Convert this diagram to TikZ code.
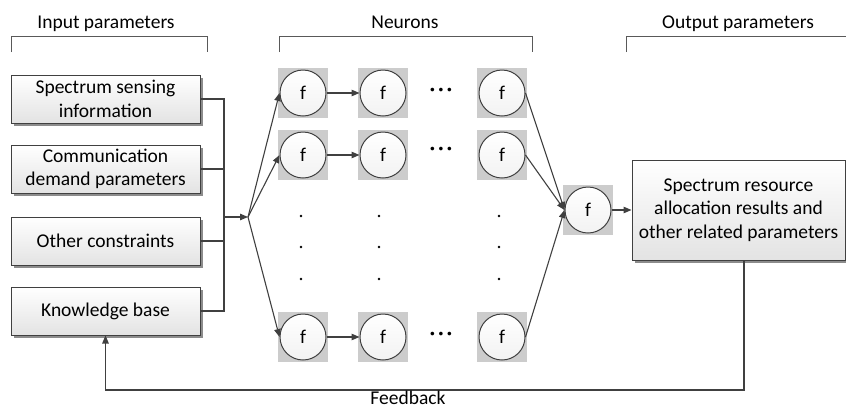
\documentclass[tikz,border=0pt]{standalone}
\usepackage{fontspec}
\setmainfont{Carlito}
\usetikzlibrary{arrows.meta,shadows}

\begin{document}
\begin{tikzpicture}[x=1pt,y=-1pt,
  font=\fontsize{19.5}{23.5}\selectfont,
  >={Triangle[length=8pt,width=6.5pt]},
  link/.style={draw=black!75,line width=1.1pt},
  bracket/.style={draw=black!65,line width=0.9pt},
  inbox/.style={draw=black!75,line width=1pt,align=center,
    minimum width=189pt,minimum height=48pt,
    top color=white,bottom color=gray!22,
    drop shadow={shadow xshift=2.5pt,shadow yshift=-2.5pt,fill=black!45,opacity=1}},
  cell/.style={fill=gray!40,minimum size=50pt,inner sep=0pt},
  neuron/.style={circle,draw=black!75,line width=1pt,minimum size=46pt,
    inner sep=0pt,top color=white,bottom color=gray!10}]
  \useasboundingbox (0,0) rectangle (846,408);

  % Headings and brackets
  \node[anchor=base] (intitle) at (106,28) {Input parameters};
  \node[anchor=base] (nrtitle) at (405,28) {Neurons};
  \node[anchor=base] (outtitle) at (738,28) {Output parameters};
  \draw[bracket] (11,52) -- (11,36) -- (207,36) -- (207,52);
  \draw[bracket] (279,52) -- (279,36) -- (532,36) -- (532,52);
  \draw[bracket] (626,52) -- (626,36) -- (846,36);

  % Input boxes
  \node[inbox] (in1) at (105.5,99) {Spectrum sensing\\information};
  \node[inbox] (in2) at (105.5,169) {Communication\\demand parameters};
  \node[inbox] (in3) at (105.5,241) {Other constraints};
  \node[inbox] (in4) at (105.5,311) {Knowledge base};

  % Bus into the network
  \coordinate (bus) at (224,217);
  \coordinate (split) at (248,217);
  \draw[link] (in1.east) -| (bus);
  \draw[link] (in4.east) -| (bus);
  \draw[link] (in2.east) -- (in2.east -| bus);
  \draw[link] (in3.east) -- (in3.east -| bus);
  \draw[link,->] (bus) -- (split);

  % First row
  \node[cell] (s11) at (303,93) {};
  \node[neuron] (n11) at (s11) {f};
  \node[cell] (s12) at (383,93) {};
  \node[neuron] (n12) at (s12) {f};
  \node[cell] (s13) at (502,93) {};
  \node[neuron] (n13) at (s13) {f};
  \node (d1) at (441,92) {\bfseries ·\,·\,·};

  % Second row
  \node[cell] (s21) at (303,155) {};
  \node[neuron] (n21) at (s21) {f};
  \node[cell] (s22) at (383,155) {};
  \node[neuron] (n22) at (s22) {f};
  \node[cell] (s23) at (502,155) {};
  \node[neuron] (n23) at (s23) {f};
  \node (d2) at (441,151) {\bfseries ·\,·\,·};

  % Last row
  \node[cell] (sn1) at (303,337) {};
  \node[neuron] (nn1) at (sn1) {f};
  \node[cell] (sn2) at (383,337) {};
  \node[neuron] (nn2) at (sn2) {f};
  \node[cell] (sn3) at (502,337) {};
  \node[neuron] (nn3) at (sn3) {f};
  \node (dn) at (441,336) {\bfseries ·\,·\,·};

  % Rows left out
  \fill (301,216) circle (1.4pt);
  \fill (301,247) circle (1.4pt);
  \fill (301,279) circle (1.4pt);
  \fill (379,216) circle (1.4pt);
  \fill (379,247) circle (1.4pt);
  \fill (379,279) circle (1.4pt);
  \fill (499,216) circle (1.4pt);
  \fill (499,247) circle (1.4pt);
  \fill (499,279) circle (1.4pt);

  % Output neuron and result
  \node[cell] (sout) at (588,210) {};
  \node[neuron] (fout) at (sout) {f};
  \node[inbox,minimum width=213pt,minimum height=100pt] (res) at (738.5,210)
    {Spectrum resource\\allocation results and\\other related parameters};

  % Connections
  \draw[link,->] (split) -- (n11.west);
  \draw[link,->] (split) -- (n21.west);
  \draw[link,->] (split) -- (nn1.west);
  \draw[link,->] (n11) -- (n12);
  \draw[link,->] (n21) -- (n22);
  \draw[link,->] (nn1) -- (nn2);
  \draw[link,->] (n13.east) -- (fout.west);
  \draw[link,->] (n23.east) -- (fout.west);
  \draw[link,->] (nn3.east) -- (fout.west);
  \draw[link,->] (fout) -- (res);

  % Feedback loop
  \coordinate (fb) at (0,390);
  \draw[link,->] ([xshift=5.5pt]res.south) -- ([xshift=5.5pt]res.south |- fb) -| (in4.south);
  \node[anchor=base] (fbtext) at (408,404) {Feedback};
\end{tikzpicture}
\end{document}
